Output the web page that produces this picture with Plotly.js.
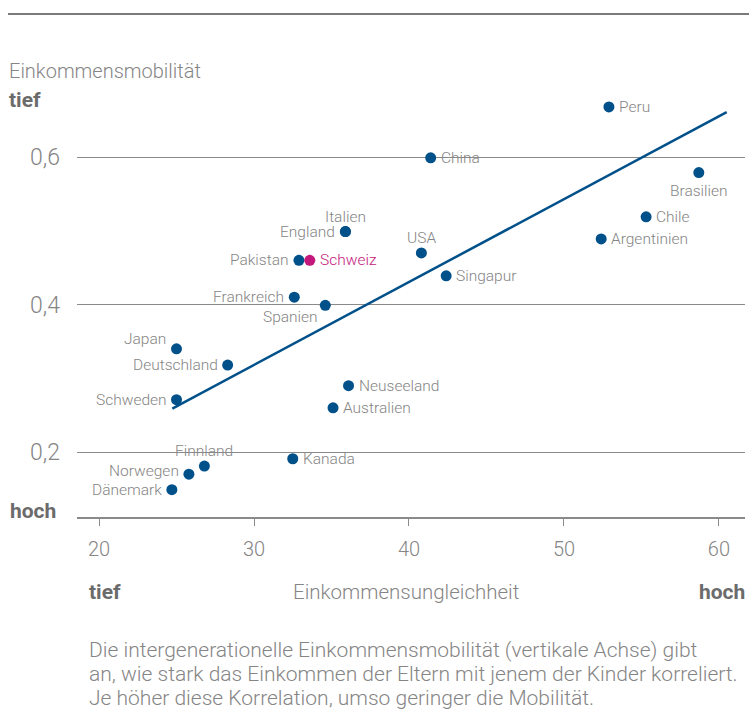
<!DOCTYPE html>
<html>
<head>
<meta charset="utf-8">
<script src="https://cdn.plot.ly/plotly-3.0.1.min.js"></script>
<style>
  html, body { margin: 0; padding: 0; background: #fff; }
  #plot { width: 749px; height: 727px; }
</style>
</head>
<body>
<div id="plot"></div>
<script>
const countries = [
  "Peru", "China", "Brasilien", "Chile", "Argentinien", "USA", "Singapur",
  "Italien", "England", "Pakistan", "Frankreich", "Spanien", "Japan",
  "Deutschland", "Schweden", "Neuseeland", "Australien", "Kanada",
  "Finnland", "Norwegen", "Dänemark", "Schweiz"
];
// Einkommensungleichheit (Gini)
const inequality = [
  52.9, 41.4, 58.7, 55.3, 52.4, 40.8, 42.4,
  35.9, 35.9, 32.9, 32.6, 34.6, 25.0,
  28.3, 25.0, 36.1, 35.1, 32.5,
  26.8, 25.8, 24.7, 33.6
];
// Einkommensmobilität (Korrelation)
const mobility = [
  0.668, 0.599, 0.579, 0.519, 0.489, 0.470, 0.439,
  0.499, 0.499, 0.460, 0.410, 0.399, 0.340,
  0.318, 0.271, 0.290, 0.260, 0.191,
  0.181, 0.170, 0.149, 0.460
];
const highlight = "Schweiz";

const trendX = [24.73, 60.5];
const trendY = [0.259, 0.661];

const yTicks = [0.2, 0.4, 0.6];
const xTicks = [20, 30, 40, 50, 60];

const captionLines = [
  "Die intergenerationelle Einkommensmobilität (vertikale Achse) gibt",
  "an, wie stark das Einkommen der Eltern mit jenem der Kinder korreliert.",
  "Je höher diese Korrelation, umso geringer die Mobilität."
];

// label placement per country (default: right of the dot)
const labelSide = {
  Brasilien: "bottom", USA: "top", Italien: "top", Finnland: "top",
  England: "left", Pakistan: "left", Frankreich: "left", Deutschland: "left",
  Schweden: "left", Dänemark: "left", Norwegen: "leftup",
  Spanien: "bottomleft", Japan: "topleft"
};
const sides = {
  right:      { xanchor: "left",   dx: 8,  dy: 0 },
  left:       { xanchor: "right",  dx: -8, dy: 0 },
  leftup:     { xanchor: "right",  dx: -8, dy: 3 },
  top:        { xanchor: "center", dx: 0,  dy: 15 },
  bottom:     { xanchor: "center", dx: 0,  dy: -18 },
  bottomleft: { xanchor: "right",  dx: -5, dy: -12 },
  topleft:    { xanchor: "right",  dx: -9, dy: 10 }
};

const BLUE = "#00508a";
const PINK = "#c4177c";
const GRAY = "#858585";
const DARK = "#6b6b6b";
const FONT = "Roboto, 'Liberation Sans', sans-serif";

// pixel helpers for page texts (plot area: left 77, width 668, bottom 517, height 449)
const px = (x) => (x - 77) / 668;
const py = (y) => (517 - y) / 449;

const traces = [
  {
    x: trendX, y: trendY, type: "scatter", mode: "lines",
    line: { color: BLUE, width: 2.5 }, hoverinfo: "skip"
  },
  {
    x: inequality, y: mobility, type: "scatter", mode: "markers",
    marker: {
      size: 11,
      color: countries.map((c) => (c === highlight ? PINK : BLUE))
    }
  }
];

const pointLabels = countries.map((c, i) => {
  const s = sides[labelSide[c] || "right"];
  return {
    text: c, xref: "x", yref: "y", x: inequality[i], y: mobility[i],
    xanchor: s.xanchor, yanchor: "middle", xshift: s.dx, yshift: s.dy,
    showarrow: false,
    font: { family: FONT, size: 15.5, color: c === highlight ? PINK : GRAY, weight: 300 }
  };
});

const txt = (text, x, y, opts = {}) => ({
  text, xref: "paper", yref: "paper", x: px(x), y: py(y),
  xanchor: opts.xanchor || "left", yanchor: "middle", showarrow: false,
  align: "left",
  font: { family: FONT, size: opts.size || 20, color: opts.color || GRAY, weight: opts.weight || 300 }
});

const bold = { color: DARK, weight: 700, size: 21 };

const layout = {
  width: 749, height: 727,
  margin: { l: 77, r: 4, t: 68, b: 210 },
  paper_bgcolor: "#fff", plot_bgcolor: "#fff",
  showlegend: false,
  separators: ",.",
  font: { family: FONT, color: GRAY },
  xaxis: {
    range: [18.58, 61.68], tickvals: xTicks, showgrid: false, zeroline: false,
    showline: true, linecolor: "#8a8a8a", linewidth: 1.5,
    ticks: "outside", ticklen: 7, tickcolor: "#8a8a8a", tickwidth: 1,
    ticklabelstandoff: 6,
    tickfont: { family: FONT, size: 20, color: GRAY, weight: 300 }
  },
  yaxis: {
    range: [0.112, 0.7208], tickvals: yTicks, tickformat: ".1f",
    showgrid: true, gridcolor: "#8a8a8a", gridwidth: 1, zeroline: false,
    showline: false, ticks: "", ticklabelstandoff: 16,
    tickfont: { family: FONT, size: 23, color: GRAY, weight: 300 }
  },
  shapes: [
    {
      type: "line", xref: "paper", yref: "paper",
      x0: px(8), x1: px(749), y0: py(14), y1: py(14),
      line: { color: "#7a7a7a", width: 2 }
    }
  ],
  annotations: [
    ...pointLabels,
    txt("Einkommensmobilität", 7, 71),
    txt("<b>tief</b>", 7, 100, bold),
    txt("<b>hoch</b>", 8, 511, bold),
    txt("<b>tief</b>", 87, 592, bold),
    txt("Einkommensungleichheit", 406, 592, { xanchor: "center", size: 20.5 }),
    txt("<b>hoch</b>", 747, 592, { ...bold, xanchor: "right" }),
    ...captionLines.map((line, i) => txt(line, 87, 650 + i * 24, { size: 21 }))
  ]
};

Plotly.newPlot("plot", traces, layout, { staticPlot: true });
</script>
</body>
</html>
